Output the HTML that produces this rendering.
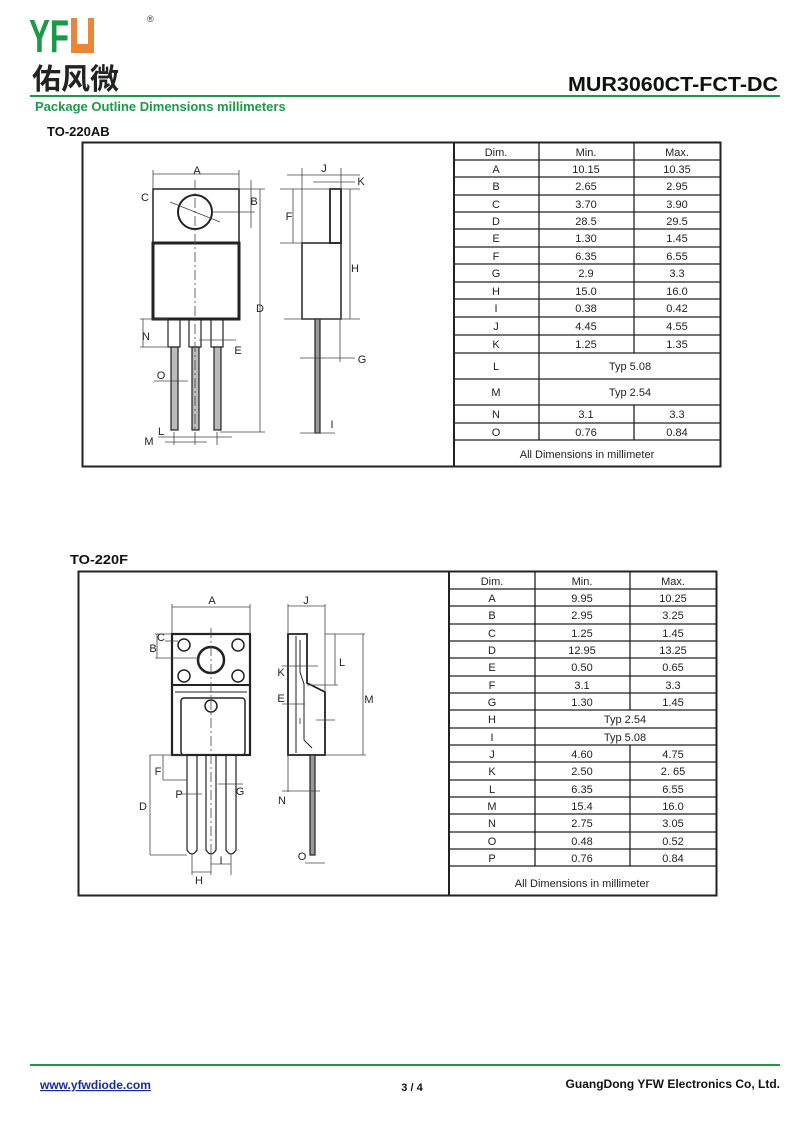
<!DOCTYPE html>
<html><head><meta charset="utf-8"><style>
html,body{margin:0;padding:0;background:#fff}
svg{display:block}
text{font-family:"Liberation Sans","Noto Sans CJK SC",sans-serif}
</style></head><body>
<svg width="800" height="1126" viewBox="0 0 800 1126" xmlns="http://www.w3.org/2000/svg">
<!-- header -->
<text x="29" y="52" font-size="46" font-weight="bold" fill="#1a9a48" textLength="40" lengthAdjust="spacingAndGlyphs">YF</text>
<rect x="71" y="18" width="23" height="35" fill="#e8873a"/>
<rect x="77" y="18" width="11" height="26" fill="#fff"/>
<text x="147" y="22" font-size="9" fill="#333">®</text>
<text x="32" y="89" font-size="29" font-weight="bold" fill="#222" font-family="'Noto Sans CJK SC',sans-serif">佑风微</text>
<text x="778" y="91" font-size="20" font-weight="bold" fill="#111" text-anchor="end" textLength="210" lengthAdjust="spacingAndGlyphs">MUR3060CT-FCT-DC</text>
<rect x="30" y="95" width="750" height="2" fill="#1a9a48"/>
<text x="35" y="111" font-size="13" font-weight="bold" fill="#1a9a48">Package Outline Dimensions millimeters</text>
<text x="47" y="136" font-size="13" font-weight="bold" fill="#111">TO-220AB</text>
<text x="70" y="564" font-size="13" font-weight="bold" fill="#111" textLength="58" lengthAdjust="spacingAndGlyphs">TO-220F</text>

<!-- table 1 frame -->
<g stroke="#222" fill="none">
<rect x="82.5" y="142.5" width="638" height="324" stroke-width="2"/>
<line x1="454" y1="142" x2="454" y2="467" stroke-width="2"/>
</g>
<g stroke="#222" stroke-width="1.3">
<line x1="539" y1="142" x2="539" y2="440"/>
<line x1="634" y1="142" x2="634" y2="353"/>
<line x1="634" y1="405" x2="634" y2="440"/>
<line x1="454" y1="160" x2="720" y2="160"/>
<line x1="454" y1="177" x2="720" y2="177"/>
<line x1="454" y1="195" x2="720" y2="195"/>
<line x1="454" y1="212" x2="720" y2="212"/>
<line x1="454" y1="229" x2="720" y2="229"/>
<line x1="454" y1="247" x2="720" y2="247"/>
<line x1="454" y1="264" x2="720" y2="264"/>
<line x1="454" y1="282" x2="720" y2="282"/>
<line x1="454" y1="299" x2="720" y2="299"/>
<line x1="454" y1="317" x2="720" y2="317"/>
<line x1="454" y1="335" x2="720" y2="335"/>
<line x1="454" y1="353" x2="720" y2="353"/>
<line x1="454" y1="379" x2="720" y2="379"/>
<line x1="454" y1="405" x2="720" y2="405"/>
<line x1="454" y1="423" x2="720" y2="423"/>
<line x1="454" y1="440" x2="720" y2="440"/>
</g>
<g font-size="11" fill="#222" text-anchor="middle">
<text x="496" y="156">Dim.</text><text x="586" y="156">Min.</text><text x="677" y="156">Max.</text>
<text x="496" y="173">A</text><text x="586" y="173">10.15</text><text x="677" y="173">10.35</text>
<text x="496" y="190">B</text><text x="586" y="190">2.65</text><text x="677" y="190">2.95</text>
<text x="496" y="208">C</text><text x="586" y="208">3.70</text><text x="677" y="208">3.90</text>
<text x="496" y="225">D</text><text x="586" y="225">28.5</text><text x="677" y="225">29.5</text>
<text x="496" y="242">E</text><text x="586" y="242">1.30</text><text x="677" y="242">1.45</text>
<text x="496" y="260">F</text><text x="586" y="260">6.35</text><text x="677" y="260">6.55</text>
<text x="496" y="277">G</text><text x="586" y="277">2.9</text><text x="677" y="277">3.3</text>
<text x="496" y="295">H</text><text x="586" y="295">15.0</text><text x="677" y="295">16.0</text>
<text x="496" y="312">I</text><text x="586" y="312">0.38</text><text x="677" y="312">0.42</text>
<text x="496" y="330">J</text><text x="586" y="330">4.45</text><text x="677" y="330">4.55</text>
<text x="496" y="348">K</text><text x="586" y="348">1.25</text><text x="677" y="348">1.35</text>
<text x="496" y="370">L</text><text x="630" y="370">Typ 5.08</text>
<text x="496" y="396">M</text><text x="630" y="396">Typ 2.54</text>
<text x="496" y="418">N</text><text x="586" y="418">3.1</text><text x="677" y="418">3.3</text>
<text x="496" y="436">O</text><text x="586" y="436">0.76</text><text x="677" y="436">0.84</text>
<text x="587" y="458">All Dimensions in millimeter</text>
</g>

<!-- drawing 1 -->
<g stroke="#222" fill="none">
<rect x="153" y="189" width="86" height="54" stroke-width="1.5"/>
<rect x="153" y="243" width="86" height="76" stroke-width="3"/>
<circle cx="195" cy="212" r="17" stroke-width="2"/>
<g stroke-width="1.2">
<rect x="168" y="319" width="12" height="28"/><rect x="171" y="347" width="7" height="83" fill="#bbb"/>
<rect x="189" y="319" width="12" height="28"/><rect x="192" y="347" width="7" height="83" fill="#bbb"/>
<rect x="211" y="319" width="12" height="28"/><rect x="214" y="347" width="7" height="83" fill="#bbb"/>
</g>
<rect x="330" y="189" width="11" height="54" stroke-width="1.8"/>
<rect x="302" y="243" width="39" height="76" stroke-width="1.5"/>
<rect x="315" y="319" width="5" height="114" fill="#999" stroke-width="1.2"/>
</g>
<g stroke="#444" stroke-width="0.8" fill="none">
<line x1="195" y1="180" x2="195" y2="430" stroke-dasharray="10,3,2,3"/>
<line x1="170" y1="202" x2="220" y2="222" />
<line x1="153" y1="174" x2="239" y2="174"/>
<line x1="153" y1="170" x2="153" y2="189"/><line x1="239" y1="170" x2="239" y2="189"/>
<line x1="239" y1="189" x2="265" y2="189"/>
<line x1="212" y1="212" x2="255" y2="212"/>
<line x1="251" y1="180" x2="251" y2="228"/>
<line x1="260" y1="189" x2="260" y2="432"/>
<line x1="220" y1="432" x2="265" y2="432"/>
<line x1="140" y1="319" x2="168" y2="319"/><line x1="140" y1="347" x2="168" y2="347"/>
<line x1="143" y1="319" x2="143" y2="347"/>
<line x1="199" y1="340" x2="236" y2="340"/>
<line x1="154" y1="381" x2="188" y2="381"/>
<line x1="158" y1="437" x2="232" y2="437"/>
<line x1="165" y1="442" x2="207" y2="442"/>
<line x1="174" y1="432" x2="174" y2="445"/><line x1="195" y1="432" x2="195" y2="445"/><line x1="217" y1="432" x2="217" y2="445"/>
<line x1="287" y1="175" x2="360" y2="175"/>
<line x1="302" y1="168" x2="302" y2="243"/><line x1="341" y1="168" x2="341" y2="189"/>
<line x1="313" y1="182" x2="355" y2="182"/>
<line x1="280" y1="189" x2="360" y2="189"/>
<line x1="280" y1="243" x2="302" y2="243"/>
<line x1="293" y1="189" x2="293" y2="243"/>
<line x1="284" y1="319" x2="360" y2="319"/>
<line x1="350" y1="189" x2="350" y2="319"/>
<line x1="340" y1="319" x2="340" y2="362"/>
<line x1="300" y1="358" x2="355" y2="358"/>
<line x1="300" y1="433" x2="335" y2="433"/>
</g>
<g font-size="11" fill="#222" text-anchor="middle">
<text x="197" y="174">A</text><text x="254" y="205">B</text><text x="145" y="201">C</text><text x="260" y="312">D</text>
<text x="238" y="354">E</text><text x="289" y="220">F</text><text x="362" y="363">G</text><text x="355" y="272">H</text>
<text x="332" y="428">I</text><text x="324" y="172">J</text><text x="361" y="185">K</text><text x="161" y="435">L</text>
<text x="149" y="445">M</text><text x="146" y="340">N</text><text x="161" y="379">O</text>
</g>

<!-- table 2 frame -->
<g stroke="#222" fill="none">
<rect x="78.5" y="571.5" width="638" height="324" stroke-width="2"/>
<line x1="449" y1="571" x2="449" y2="896" stroke-width="2"/>
</g>
<g stroke="#222" stroke-width="1.3">
<line x1="535" y1="571" x2="535" y2="866"/>
<line x1="630" y1="571" x2="630" y2="710"/>
<line x1="630" y1="745" x2="630" y2="866"/>
<line x1="449" y1="589" x2="716" y2="589"/>
<line x1="449" y1="606" x2="716" y2="606"/>
<line x1="449" y1="624" x2="716" y2="624"/>
<line x1="449" y1="641" x2="716" y2="641"/>
<line x1="449" y1="658" x2="716" y2="658"/>
<line x1="449" y1="676" x2="716" y2="676"/>
<line x1="449" y1="693" x2="716" y2="693"/>
<line x1="449" y1="710" x2="716" y2="710"/>
<line x1="449" y1="728" x2="716" y2="728"/>
<line x1="449" y1="745" x2="716" y2="745"/>
<line x1="449" y1="762" x2="716" y2="762"/>
<line x1="449" y1="780" x2="716" y2="780"/>
<line x1="449" y1="797" x2="716" y2="797"/>
<line x1="449" y1="814" x2="716" y2="814"/>
<line x1="449" y1="832" x2="716" y2="832"/>
<line x1="449" y1="849" x2="716" y2="849"/>
<line x1="449" y1="866" x2="716" y2="866"/>
</g>
<g font-size="11" fill="#222" text-anchor="middle">
<text x="492" y="585">Dim.</text><text x="582" y="585">Min.</text><text x="673" y="585">Max.</text>
<text x="492" y="602">A</text><text x="582" y="602">9.95</text><text x="673" y="602">10.25</text>
<text x="492" y="619">B</text><text x="582" y="619">2.95</text><text x="673" y="619">3.25</text>
<text x="492" y="637">C</text><text x="582" y="637">1.25</text><text x="673" y="637">1.45</text>
<text x="492" y="654">D</text><text x="582" y="654">12.95</text><text x="673" y="654">13.25</text>
<text x="492" y="671">E</text><text x="582" y="671">0.50</text><text x="673" y="671">0.65</text>
<text x="492" y="689">F</text><text x="582" y="689">3.1</text><text x="673" y="689">3.3</text>
<text x="492" y="706">G</text><text x="582" y="706">1.30</text><text x="673" y="706">1.45</text>
<text x="492" y="723">H</text><text x="625" y="723">Typ 2.54</text>
<text x="492" y="741">I</text><text x="625" y="741">Typ 5.08</text>
<text x="492" y="758">J</text><text x="582" y="758">4.60</text><text x="673" y="758">4.75</text>
<text x="492" y="775">K</text><text x="582" y="775">2.50</text><text x="673" y="775">2. 65</text>
<text x="492" y="793">L</text><text x="582" y="793">6.35</text><text x="673" y="793">6.55</text>
<text x="492" y="810">M</text><text x="582" y="810">15.4</text><text x="673" y="810">16.0</text>
<text x="492" y="827">N</text><text x="582" y="827">2.75</text><text x="673" y="827">3.05</text>
<text x="492" y="845">O</text><text x="582" y="845">0.48</text><text x="673" y="845">0.52</text>
<text x="492" y="862">P</text><text x="582" y="862">0.76</text><text x="673" y="862">0.84</text>
<text x="582" y="887">All Dimensions in millimeter</text>
</g>

<!-- drawing 2 -->
<g stroke="#222" fill="none">
<rect x="172" y="634" width="78" height="121" stroke-width="2.2"/>
<line x1="172" y1="685" x2="250" y2="685" stroke-width="2"/>
<line x1="175" y1="692" x2="247" y2="692" stroke-width="1"/>
<rect x="181" y="698" width="64" height="57" rx="3" stroke-width="1.5"/>
<circle cx="211" cy="660" r="13" stroke-width="2.5"/>
<circle cx="184" cy="645" r="6" stroke-width="1.5"/><circle cx="238" cy="645" r="6" stroke-width="1.5"/>
<circle cx="184" cy="676" r="6" stroke-width="1.5"/><circle cx="238" cy="676" r="6" stroke-width="1.5"/>
<circle cx="211" cy="706" r="6" stroke-width="1.5"/>
<g stroke-width="1.2">
<path d="M187 755 V850 Q192 858 197 850 V755"/>
<path d="M206 755 V850 Q211 858 216 850 V755"/>
<path d="M226 755 V850 Q231 858 236 850 V755"/>
</g>
<path d="M288 634 H307 V683 L325 692 V755 H288 Z" stroke-width="1.8"/>
<line x1="296" y1="636" x2="296" y2="753" stroke-width="1"/>
<path d="M300 640 V672 L304 684 V740 L312 748" stroke-width="1"/>
<rect x="310" y="755" width="5" height="100" fill="#999" stroke-width="1.2"/>
</g>
<g stroke="#444" stroke-width="0.8" fill="none">
<line x1="211" y1="628" x2="211" y2="860" stroke-dasharray="10,3,2,3"/>
<line x1="172" y1="607" x2="250" y2="607"/>
<line x1="172" y1="604" x2="172" y2="634"/><line x1="250" y1="604" x2="250" y2="634"/>
<line x1="155" y1="634" x2="172" y2="634"/><line x1="155" y1="658" x2="200" y2="658"/>
<line x1="157" y1="634" x2="157" y2="658"/>
<line x1="165" y1="641" x2="178" y2="641"/>
<line x1="288" y1="606" x2="325" y2="606"/>
<line x1="288" y1="604" x2="288" y2="634"/><line x1="325" y1="604" x2="325" y2="692"/>
<line x1="325" y1="634" x2="365" y2="634"/>
<line x1="335" y1="634" x2="335" y2="685"/><line x1="307" y1="685" x2="338" y2="685"/>
<line x1="363" y1="634" x2="363" y2="755"/><line x1="325" y1="755" x2="366" y2="755"/>
<line x1="282" y1="666" x2="318" y2="666"/>
<line x1="282" y1="704" x2="305" y2="704"/>
<line x1="316" y1="720" x2="335" y2="720"/>
<line x1="150" y1="755" x2="187" y2="755"/>
<line x1="150" y1="755" x2="150" y2="855"/><line x1="150" y1="855" x2="187" y2="855"/>
<line x1="163" y1="755" x2="163" y2="780"/><line x1="163" y1="780" x2="187" y2="780"/>
<line x1="180" y1="794" x2="202" y2="794"/>
<line x1="218" y1="784" x2="243" y2="784"/>
<line x1="288" y1="755" x2="288" y2="792"/><line x1="282" y1="791" x2="320" y2="791"/>
<line x1="192" y1="855" x2="192" y2="875"/><line x1="231" y1="855" x2="231" y2="875"/><line x1="211" y1="855" x2="211" y2="875"/>
<line x1="192" y1="872" x2="211" y2="872"/>
<line x1="211" y1="864" x2="231" y2="864"/>
<line x1="305" y1="863" x2="325" y2="863"/>
</g>
<g font-size="11" fill="#222" text-anchor="middle">
<text x="212" y="604">A</text><text x="306" y="604">J</text><text x="161" y="641">C</text><text x="153" y="652">B</text>
<text x="342" y="666">L</text><text x="369" y="703">M</text><text x="281" y="676">K</text><text x="281" y="702">E</text>
<text x="300" y="724" font-size="8">I</text><text x="158" y="775">F</text><text x="143" y="810">D</text><text x="179" y="798">P</text>
<text x="240" y="795">G</text><text x="282" y="804">N</text><text x="199" y="884">H</text><text x="221" y="864">I</text><text x="302" y="860">O</text>
</g>

<!-- footer -->
<rect x="30" y="1064" width="750" height="2" fill="#1a9a48"/>
<text x="40" y="1089" font-size="12" font-weight="bold" fill="#1a2a9a" text-decoration="underline">www.yfwdiode.com</text>
<text x="412" y="1091" font-size="11" font-weight="bold" fill="#111" text-anchor="middle">3 / 4</text>
<text x="780" y="1088" font-size="12" font-weight="bold" fill="#111" text-anchor="end">GuangDong YFW Electronics Co, Ltd.</text>
</svg>
</body></html>
